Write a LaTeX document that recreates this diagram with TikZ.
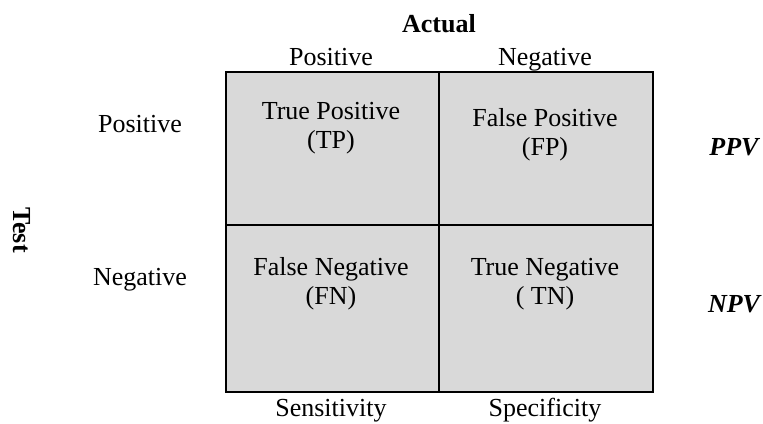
\documentclass[tikz,border=0pt]{standalone}
\usepackage{fontspec}
\setmainfont{Liberation Serif}
\usepackage{tikz}
\definecolor{cellgray}{RGB}{217,217,217}

\begin{document}
\begin{tikzpicture}[x=1pt,y=-1pt]
	\tikzset{every node/.style={font=\fontsize{26}{29}\selectfont,inner sep=0pt}}
	\tikzset{cell/.style={draw,line width=2pt,fill=cellgray,anchor=north west}}
	\tikzset{txt/.style={anchor=base,align=center}}
	\tikzset{head/.style={font=\fontsize{26}{29}\selectfont\bfseries}}
	\tikzset{ratio/.style={anchor=base,font=\fontsize{26}{29}\selectfont\bfseries\itshape}}
	\useasboundingbox (0,0) rectangle (763,423);
	% the four cells
	\node[cell,minimum width=213pt,minimum height=153pt] (tp) at (225,71) {};
	\node[cell,minimum width=214pt,minimum height=153pt] (fp) at (438,71) {};
	\node[cell,minimum width=213pt,minimum height=167pt] (fn) at (225,224) {};
	\node[cell,minimum width=214pt,minimum height=167pt] (tn) at (438,224) {};
	\node[txt] (tptext) at (331,148) {True Positive\\(TP)};
	\node[txt] (fptext) at (545,155) {False Positive\\(FP)};
	\node[txt] (fntext) at (331,304) {False Negative\\(FN)};
	\node[txt] (tntext) at (545,304) {True Negative\\( TN)};
	% headings
	\node[head,anchor=base] (actual) at (439,32) {Actual};
	\node[txt] (actpos) at (331,65) {Positive};
	\node[txt] (actneg) at (545,65) {Negative};
	\node[head,rotate=-90] (test) at (22,230) {Test};
	\node[txt] (testpos) at (140,132) {Positive};
	\node[txt] (testneg) at (140,285) {Negative};
	\node[ratio] (ppv) at (734,155) {PPV};
	\node[ratio] (npv) at (734,312) {NPV};
	\node[txt] (sens) at (331,416) {Sensitivity};
	\node[txt] (spec) at (545,416) {Specificity};
\end{tikzpicture}
\end{document}
